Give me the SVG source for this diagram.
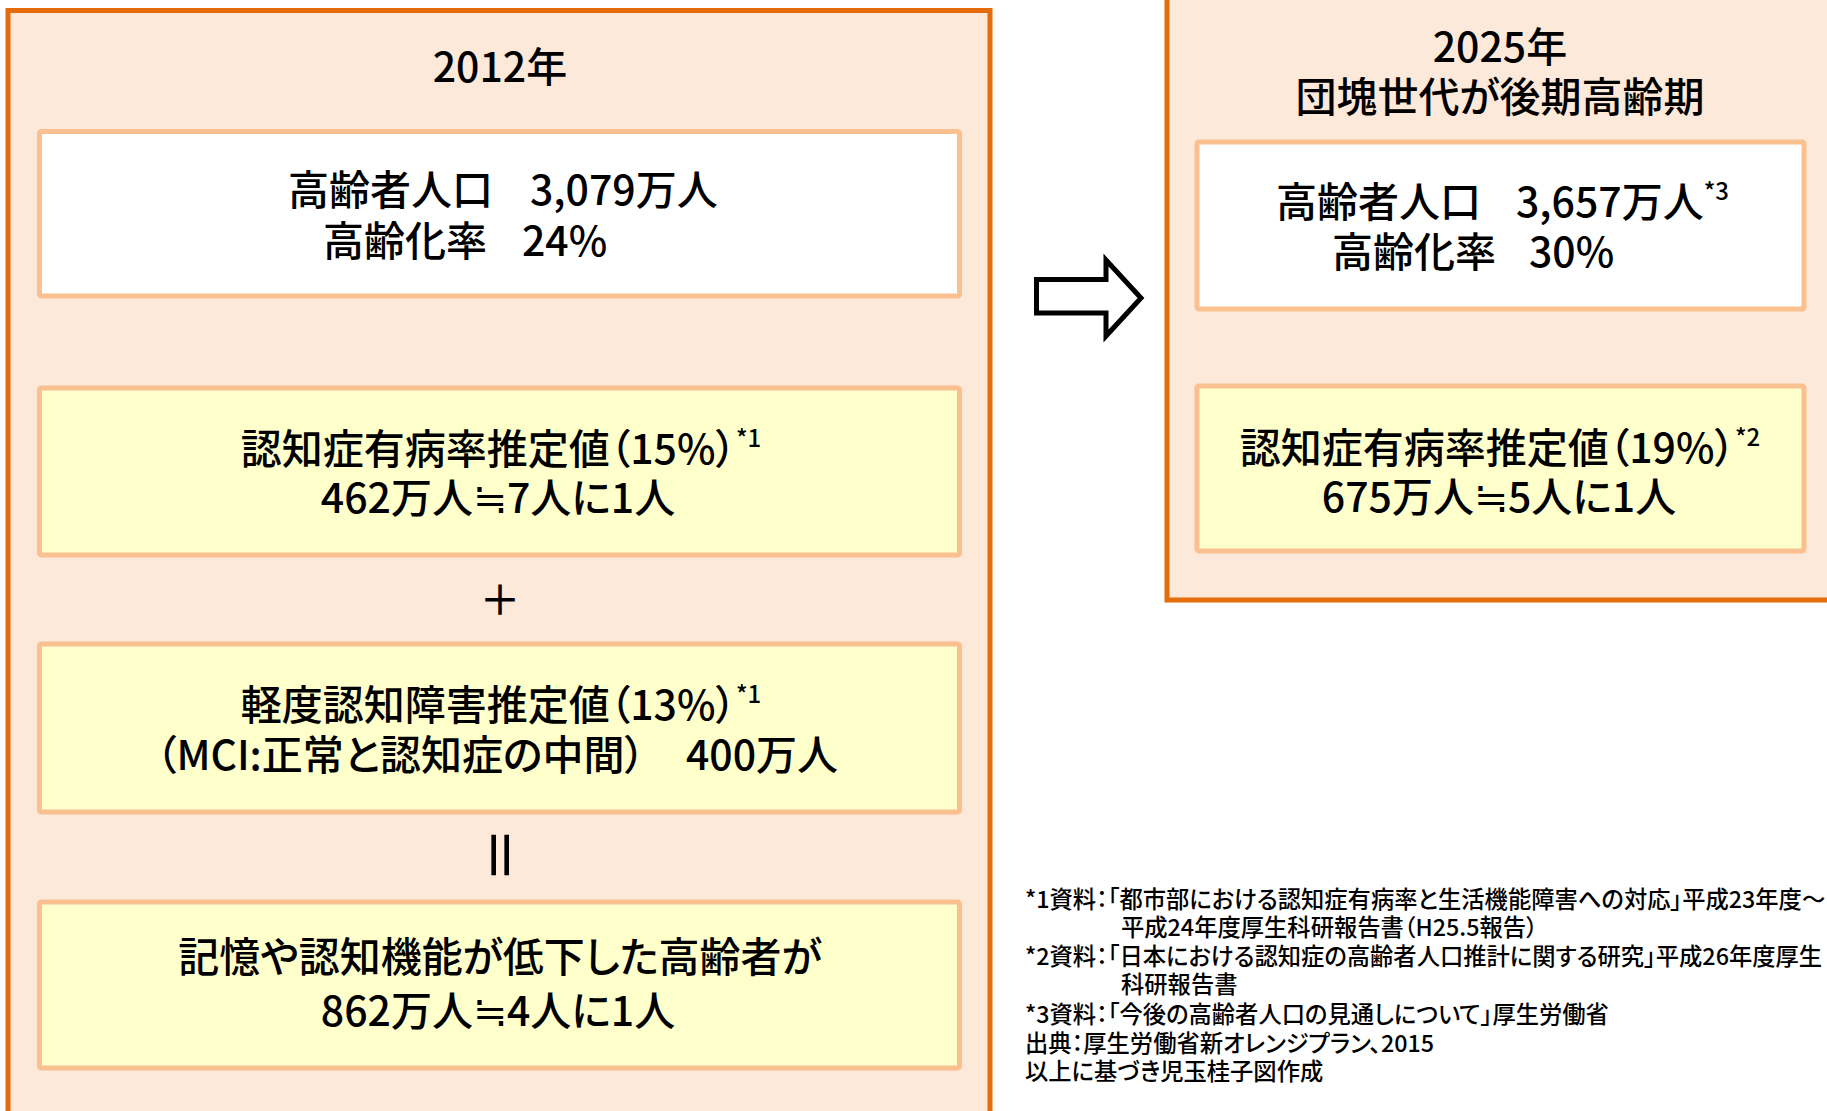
<svg xmlns="http://www.w3.org/2000/svg" width="1827" height="1111" viewBox="0 0 1827 1111">
<style>
.panel{fill:#FDE9D9;stroke:#E46C0A;stroke-width:5}
.wbox{fill:#FFFFFF;stroke:#FAC090;stroke-width:5}
.ybox{fill:#FFFFCC;stroke:#FAC090;stroke-width:5}
text{font-family:"Noto Sans CJK JP","Noto Sans CJK SC",sans-serif;fill:#000;font-feature-settings:"palt"}
.t{font-size:41px;font-weight:500}
.c{text-anchor:middle}
.sup{font-size:24px}
.fn{font-size:23.3px;font-weight:500}
</style>
<rect width="1827" height="1111" fill="#FFFFFF"/>
<g id="panel-2012">
<rect class="panel" x="8" y="10.5" width="982" height="1130"/>
<text class="t c" x="500" y="82">2012年</text>
</g>
<g id="box-2012-population">
<rect class="wbox" x="39.5" y="131.5" width="920" height="164.5" rx="2"/>
<text class="t" y="205"><tspan x="288">高齢者人口</tspan><tspan x="530">3,079万人</tspan></text>
<text class="t" y="256"><tspan x="323">高齢化率</tspan><tspan x="522">24%</tspan></text>
</g>
<g id="box-2012-dementia">
<rect class="ybox" x="39.5" y="388" width="920" height="167" rx="2"/>
<text class="t c" x="501" y="464">認知症有病率推定値（15%）<tspan class="sup" dy="-17">*1</tspan></text>
<text class="t c" x="498" y="513">462万人≒7人に1人</text>
</g>
<text id="plus" class="t c" x="500" y="615">＋</text>
<g id="box-2012-mci">
<rect class="ybox" x="39.5" y="644" width="920" height="168" rx="2"/>
<text class="t c" x="501" y="720">軽度認知障害推定値（13%）<tspan class="sup" dy="-17">*1</tspan></text>
<text class="t c" x="497" y="770">（MCI:正常と認知症の中間）　400万人</text>
</g>
<text id="equals" x="0" y="0" text-anchor="middle" dominant-baseline="central" font-size="56" font-weight="500" transform="translate(503.5,855) rotate(90)">＝</text>
<g id="box-2012-total">
<rect class="ybox" x="39.5" y="902" width="920" height="166" rx="2"/>
<text class="t c" x="500" y="972">記憶や認知機能が低下した高齢者が</text>
<text class="t c" x="498" y="1026">862万人≒4人に1人</text>
</g>
<g id="connectors">
<path d="M1036.5,279.5 H1106 V260 L1141,298 L1106,336 V313 H1036.5 Z" fill="#FFFFFF" stroke="#000" stroke-width="5" stroke-linejoin="miter"/>
</g>
<g id="panel-2025">
<rect class="panel" x="1167" y="-10" width="700" height="610"/>
<text class="t c" x="1500" y="62">2025年</text>
<text class="t c" x="1500" y="112">団塊世代が後期高齢期</text>
</g>
<g id="box-2025-population">
<rect class="wbox" x="1197" y="142" width="607" height="167" rx="2"/>
<text class="t" y="217"><tspan x="1276">高齢者人口</tspan><tspan x="1516">3,657万人</tspan><tspan class="sup" dy="-17">*3</tspan></text>
<text class="t" y="267"><tspan x="1332">高齢化率</tspan><tspan x="1529">30%</tspan></text>
</g>
<g id="box-2025-dementia">
<rect class="ybox" x="1197" y="386" width="607" height="165" rx="2"/>
<text class="t c" x="1500" y="463">認知症有病率推定値（19%）<tspan class="sup" dy="-17">*2</tspan></text>
<text class="t c" x="1499" y="512">675万人≒5人に1人</text>
</g>
<g id="footnotes">
<text class="fn" x="1025" y="908">*1資料：「都市部における認知症有病率と生活機能障害への対応」平成23年度〜</text>
<text class="fn" x="1121" y="936">平成24年度厚生科研報告書（H25.5報告）</text>
<text class="fn" x="1025" y="965">*2資料：「日本における認知症の高齢者人口推計に関する研究」平成26年度厚生</text>
<text class="fn" x="1121" y="993">科研報告書</text>
<text class="fn" x="1025" y="1023">*3資料：「今後の高齢者人口の見通しについて」厚生労働省</text>
<text class="fn" x="1025" y="1052">出典：厚生労働省新オレンジプラン、2015</text>
<text class="fn" x="1025" y="1080">以上に基づき児玉桂子図作成</text>
</g>
</svg>
